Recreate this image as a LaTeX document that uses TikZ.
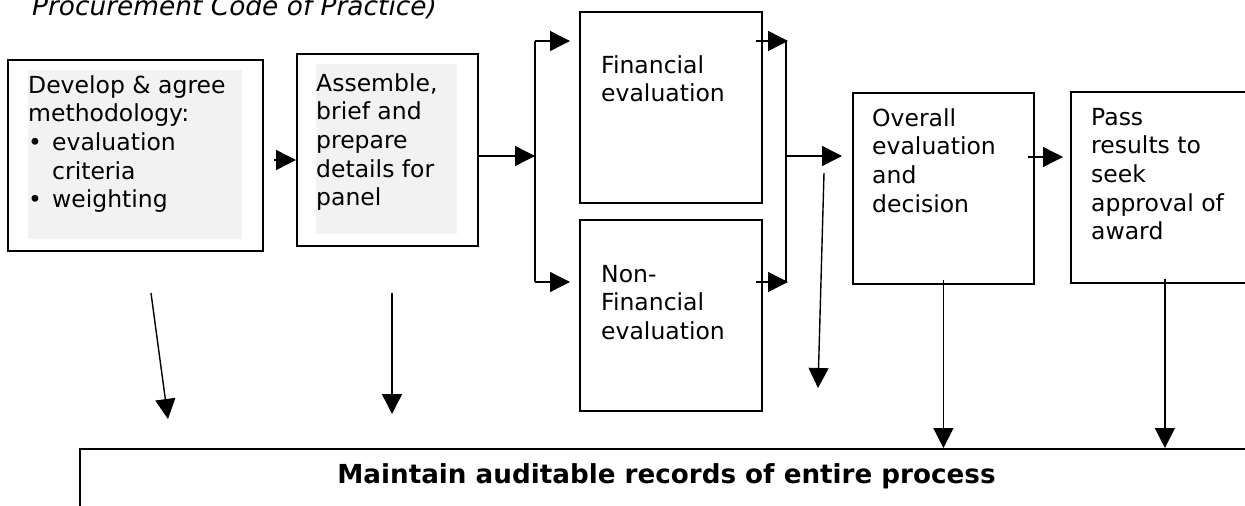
\documentclass[tikz,border=0pt]{standalone}
\usepackage{fontspec}
\setmainfont{DejaVu Sans}
\usetikzlibrary{arrows.meta}
\def\bodysize{\fontsize{23.5pt}{28.7pt}\selectfont}
\def\bigsize{\fontsize{26.4pt}{30pt}\selectfont}
\def\boxw{181pt}
\def\boxh{191pt}
\def\lsep{28.7}
\newcommand\bitem[1]{\makebox[24pt][l]{•}#1}

\begin{document}
\begin{tikzpicture}[x=1pt,y=-1pt,
    stepbox/.style={
      draw, line width=1.8pt, anchor=north west, inner sep=0pt,
      minimum width=\boxw, minimum height=\boxh
    },
    boxtext/.style={
      anchor=base west, inner sep=0pt, align=left, font=\bodysize
    },
    arrowtip/.style={
      -{Triangle[length=20pt,width=20pt]}, line width=1.4pt
    },
    plain/.style={line width=1.4pt}
  ]
    \useasboundingbox (0,0) rectangle (1245,506);
    \clip (0,0) rectangle (1245,506);

    \node[anchor=base west, inner sep=0pt, font=\itshape\bigsize] (Source) at (32,15)
      {Procurement Code of Practice)};

    % process steps
    \node[stepbox, minimum width=255pt] (Develop) at (7,59) {};
    \node[stepbox, minimum height=192pt] (Assemble) at (296,53) {};
    \node[stepbox, minimum width=182pt] (Fin) at (579,11) {};
    \node[stepbox, minimum width=182pt] (NonFin) at (579,219) {};
    \node[stepbox] (Overall) at (852,92) {};
    \node[stepbox, minimum width=188pt] (Pass) at (1070,91) {};
    \node[stepbox, line width=2pt, minimum width=1300pt, minimum height=200pt] (Records) at (79,448) {};

    \fill[gray!10] (28,70) rectangle (242,239);
    \fill[gray!10] (316,64) rectangle (457,234);

    % texts, placed by the baseline of their last line
    \node[boxtext] (DevelopText) at (28,{93+4*\lsep})
      {Develop \& agree\\methodology:\\\bitem{evaluation}\\\hspace*{24pt}criteria\\\bitem{weighting}};
    \node[boxtext] (AssembleText) at (316,{91+4*\lsep})
      {Assemble,\\brief and\\prepare\\details for\\panel};
    \node[boxtext] (FinText) at (601,{73+1*\lsep}) {Financial\\evaluation};
    \node[boxtext] (NonFinText) at (601,{282+2*\lsep}) {Non-\\Financial\\evaluation};
    \node[boxtext] (OverallText) at (872,{126+3*\lsep}) {Overall\\evaluation\\and\\decision};
    \node[boxtext] (PassText) at (1091,{125+4*\lsep}) {Pass\\results to\\seek\\approval of\\award};
    \node[anchor=base, inner sep=0pt, font=\bfseries\fontsize{26.2pt}{30pt}\selectfont] (RecordsText) at (666.5,483)
      {Maintain auditable records of entire process};

    % junctions
    \coordinate (DevOut) at (274,160);
    \coordinate (SplitIn) at (535,156);
    \coordinate (SplitTop) at (535,41);
    \coordinate (SplitBot) at (535,282);
    \coordinate (JoinTop) at (786,41);
    \coordinate (JoinBot) at (786,282);
    \coordinate (JoinOut) at (786,156);
    \coordinate (DecOut) at (1028,157);
    \coordinate (LooseTop) at (824,173);
    \coordinate (LooseEnd) at (818,388);
    \coordinate (DevDown) at (151,293);
    \coordinate (DevDownEnd) at (168,419);
    \coordinate (AsmDown) at (392,293);
    \coordinate (AsmDownEnd) at (392,414);

    \draw[arrowtip] (DevOut) -- (DevOut -| Assemble.west);
    \draw[arrowtip] (Assemble.east |- SplitIn) -- (SplitIn);
    \draw[plain] (SplitTop) -- (SplitBot);
    \draw[arrowtip] (SplitTop) -- ([xshift=-9pt]SplitTop -| Fin.west);
    \draw[arrowtip] (SplitBot) -- ([xshift=-9pt]SplitBot -| NonFin.west);
    \draw[arrowtip] ([xshift=-7pt]JoinTop -| Fin.east) -- ([xshift=2pt]JoinTop);
    \draw[arrowtip] ([xshift=-7pt]JoinBot -| NonFin.east) -- ([xshift=2pt]JoinBot);
    \draw[plain] (JoinTop) -- (JoinBot);
    \draw[arrowtip] (JoinOut) -- ([xshift=-10pt]JoinOut -| Overall.west);
    \draw[arrowtip] (LooseTop) -- (LooseEnd);
    \draw[arrowtip] (DecOut) -- ([xshift=-7pt]DecOut -| Pass.west);

    \draw[arrowtip] ([yshift=5pt]Overall.south) -- (Overall.south |- Records.north);
    \draw[arrowtip] ([yshift=5pt]Pass.south) -- (Pass.south |- Records.north);
    \draw[arrowtip] (DevDown) -- (DevDownEnd);
    \draw[arrowtip] (AsmDown) -- (AsmDownEnd);
  \end{tikzpicture}
\end{document}
